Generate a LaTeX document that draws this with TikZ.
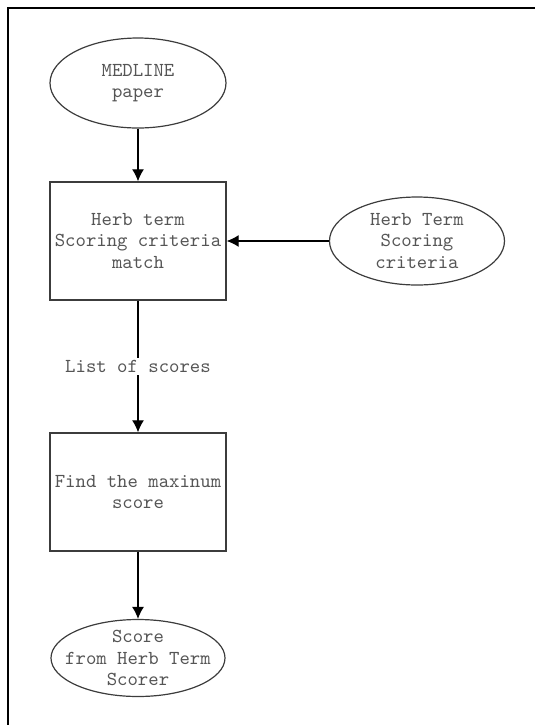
\documentclass[tikz,border=0pt]{standalone}
\usepackage{fontspec}
\usetikzlibrary{shapes.geometric,arrows.meta}

\definecolor{inkgray}{RGB}{85,85,85}
\definecolor{linegray}{RGB}{60,60,60}

\tikzset{
    txt/.style={font=\ttfamily\fontsize{9.9}{10.8}\selectfont,text=inkgray,align=center,inner sep=0pt},
    data/.style={txt,ellipse,draw=linegray,line width=0.6pt},
    process/.style={txt,rectangle,draw=linegray,line width=0.7pt,minimum width=88pt,minimum height=59pt},
    flow/.style={-{Latex[length=6pt,width=6pt]},line width=0.6pt,black}
}

\begin{document}
\begin{tikzpicture}[x=0.5pt,y=-0.5pt]
        \useasboundingbox (0,0) rectangle (535,725);
        % frame
        \draw[line width=1pt] (8,725) -- (8,8) -- (535,8);

        \node[data,minimum width=88pt,minimum height=45pt] (medline) at (138,83) {MEDLINE\\paper};
        \node[process] (match) at (138,241) {Herb term\\Scoring criteria\\match};
        \node[data,minimum width=87.5pt,minimum height=44pt] (criteria) at (417,241) {Herb Term\\Scoring\\criteria};
        \node[process] (maxscore) at (138,492) {Find the maxinum\\score};
        \node[data,inner xsep=-6pt,inner ysep=-1.5pt,minimum width=87pt,minimum height=38.5pt] (result) at (138,658) {Score\\from Herb Term\\Scorer};

        \draw[flow] (medline) -- (match);
        \draw[flow] (criteria) -- (match);
        \draw[flow] (match) -- node[txt,fill=white,inner sep=1pt] {List of scores} (maxscore);
        \draw[flow] (maxscore) -- (result);
    \end{tikzpicture}
\end{document}
